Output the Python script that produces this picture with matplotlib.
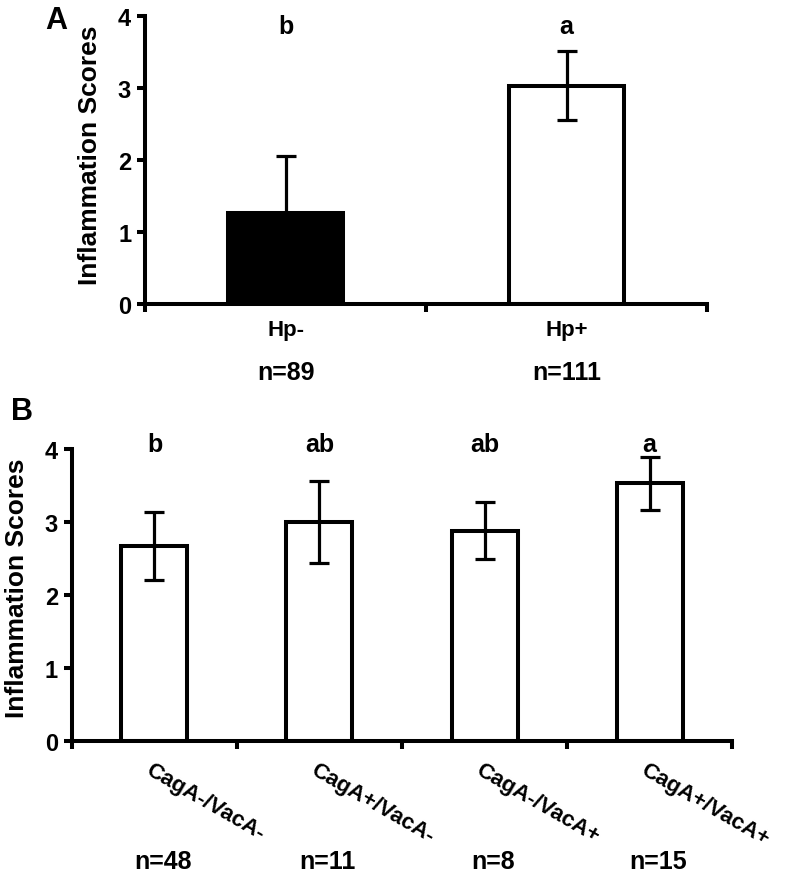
import matplotlib
matplotlib.use("Agg")
import matplotlib.pyplot as plt

plt.rcParams['font.family'] = ['Liberation Sans', 'DejaVu Sans']
plt.rcParams['font.weight'] = 'bold'

# Panel A data
groupsA = ["Hp-", "Hp+"]
meansA = [1.26, 3.03]
errA = [0.80, 0.48]
nA = ["n=89", "n=111"]
lettersA = ["b", "a"]
colorsA = ["black", "white"]

# Panel B data
groupsB = ["CagA-/VacA-", "CagA+/VacA-", "CagA-/VacA+", "CagA+/VacA+"]
meansB = [2.67, 3.00, 2.88, 3.53]
errB = [0.47, 0.56, 0.39, 0.36]
nB = ["n=48", "n=11", "n=8", "n=15"]
lettersB = ["b", "ab", "ab", "a"]

lw = 2.9

fig = plt.figure(figsize=(7.86, 8.87), dpi=100)
axA = fig.add_axes([0.1845, 0.6561, 0.715, 0.3247])
axB = fig.add_axes([0.0916, 0.1635, 0.8397, 0.3292])


def style_axis(ax, ncat):
    ax.set_xlim(-0.5, ncat - 0.5)
    ax.set_ylim(0, 4)
    ax.set_yticks(range(5))
    ax.set_yticklabels([str(v) for v in range(5)], fontsize=17,
                       fontweight="bold")
    for s in ["top", "right"]:
        ax.spines[s].set_visible(False)
    for s in ["left", "bottom"]:
        ax.spines[s].set_linewidth(lw)
    ax.set_xticks([i - 0.5 for i in range(ncat + 1)])
    ax.set_xticklabels([])
    ax.tick_params(axis="x", direction="out", length=6, width=lw)
    ax.tick_params(axis="y", direction="out", length=6, width=lw, pad=4)


# ---- Panel A ----
xA = range(len(groupsA))
axA.bar(xA, meansA, width=0.41, color=colorsA, edgecolor="black",
        linewidth=lw, zorder=2)
axA.errorbar(xA, meansA, yerr=errA, fmt="none", ecolor="black",
             elinewidth=2.3, capsize=7, capthick=2.3, zorder=3)
style_axis(axA, len(groupsA))
for i in xA:
    axA.text(i, 3.86, lettersA[i], ha="center", va="center", fontsize=18,
             fontweight="bold")
    axA.text(i, -0.09, groupsA[i], transform=axA.get_xaxis_transform(),
             ha="center", va="center", fontsize=16, fontweight="bold")
    axA.text(i, -0.235, nA[i], transform=axA.get_xaxis_transform(),
             ha="center", va="center", fontsize=18, fontweight="bold")
fig.text(0.114, 0.825, "Inflammation Scores", rotation=90, ha="center",
         va="center", fontsize=19, fontweight="bold")
fig.text(0.071, 0.976, "A", ha="center", va="center", fontsize=22,
         fontweight="bold")

# ---- Panel B ----
xB = range(len(groupsB))
axB.bar(xB, meansB, width=0.40, color="white", edgecolor="black",
        linewidth=lw, zorder=2)
axB.errorbar(xB, meansB, yerr=errB, fmt="none", ecolor="black",
             elinewidth=2.3, capsize=7, capthick=2.3, zorder=3)
style_axis(axB, len(groupsB))
for i in xB:
    axB.text(i, 4.07, lettersB[i], ha="center", va="center", fontsize=18,
             fontweight="bold")
    axB.text(i - 0.01, -0.06, groupsB[i], transform=axB.get_xaxis_transform(),
             ha="left", va="top", rotation=-30, rotation_mode="anchor",
             fontsize=16, fontweight="bold")
    axB.text(i + 0.05, -0.41, nB[i], transform=axB.get_xaxis_transform(),
             ha="center", va="center", fontsize=18, fontweight="bold")
fig.text(0.021, 0.337, "Inflammation Scores", rotation=90, ha="center",
         va="center", fontsize=19, fontweight="bold")
fig.text(0.028, 0.535, "B", ha="center", va="center", fontsize=22,
         fontweight="bold")

fig.savefig("out.png", dpi=100)
